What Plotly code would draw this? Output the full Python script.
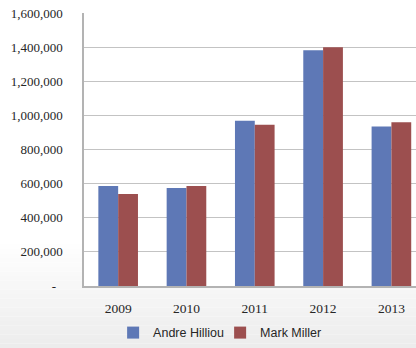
import plotly.graph_objects as go

years = ["2009", "2010", "2011", "2012", "2013"]
andre = [586000, 574000, 969000, 1382000, 935000]
mark = [539000, 586000, 945000, 1400000, 959000]
y_ticks = [0, 200000, 400000, 600000, 800000, 1000000, 1200000, 1400000, 1600000]
y_tick_text = ["-\u00a0\u00a0"] + [f"{v:,}" for v in y_ticks[1:]]

fig = go.Figure()
fig.add_trace(go.Bar(name="Andre Hilliou", x=years, y=andre, marker=dict(color="#5E78B6", line=dict(width=0))))
fig.add_trace(go.Bar(name="Mark Miller", x=years, y=mark, marker=dict(color="#9C4F4F", line=dict(width=0))))

# background gradient bands (paper coords), then white plot area
shapes = []
n = 24
y_top_px, y_bot_px = 240, 348
plot_top, plot_bot = 13.5, 286
for i in range(n):
    a = y_top_px + (y_bot_px - y_top_px) * i / n
    b = y_top_px + (y_bot_px - y_top_px) * (i + 1) / n
    t = (i + 0.5) / n
    c = int(round(255 - t * 19))
    shapes.append(dict(type="rect", xref="paper", yref="paper",
                       x0=-1, x1=2,
                       y0=(plot_bot - b) / (plot_bot - plot_top),
                       y1=(plot_bot - a) / (plot_bot - plot_top),
                       fillcolor=f"rgb({c},{c},{c})", line=dict(width=0), layer="below"))
shapes.append(dict(type="rect", xref="paper", yref="paper", x0=0, x1=1, y0=0, y1=1,
                   fillcolor="white", line=dict(width=0), layer="below"))

fig.update_layout(
    width=416, height=348,
    margin=dict(l=84, r=0, t=13, b=62),
    paper_bgcolor="white",
    plot_bgcolor="rgba(0,0,0,0)",
    barmode="group",
    bargap=0.42,
    bargroupgap=0,
    shapes=shapes,
    showlegend=True,
    legend=dict(orientation="h", x=0.41, xanchor="center", y=-0.227, yanchor="bottom",
                font=dict(family="Liberation Sans", size=12.5, color="#262626"),
                bgcolor="rgba(0,0,0,0)", itemwidth=30, traceorder="normal",
                entrywidth=62, entrywidthmode="pixels"),
    xaxis=dict(range=[-0.5, 4.36], showgrid=False, showline=True, linecolor="#b3b3b3", linewidth=1.5,
               ticks="", tickfont=dict(family="Liberation Serif", size=13.5, color="#262626"),
               ticklabelstandoff=9, fixedrange=True),
    yaxis=dict(range=[0, 1600000], tickvals=y_ticks, ticktext=y_tick_text,
               showgrid=True, gridcolor="#c3c3c3", gridwidth=1,
               showline=True, linecolor="#b3b3b3", linewidth=1.5, zeroline=False,
               ticks="", tickfont=dict(family="Liberation Serif", size=13, color="#262626"),
               ticklabelstandoff=17),
)

fig.write_html("out.html")
